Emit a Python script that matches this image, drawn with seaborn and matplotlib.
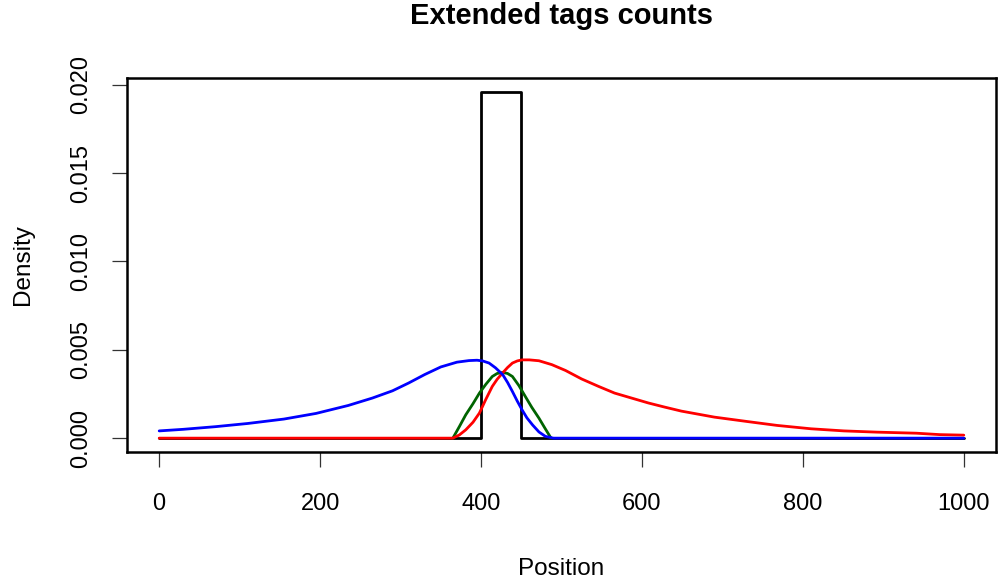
import numpy as np
import pandas as pd
import matplotlib
matplotlib.use("Agg")
import matplotlib.pyplot as plt
import seaborn as sns

# ---- data ----
rect_x = [0, 400, 400, 450, 450, 1000]
rect_y = [0.0, 0.0, 0.0196, 0.0196, 0.0, 0.0]

blue_x = [0, 30, 70, 110, 155, 195, 235, 265, 290, 310, 330, 350, 370, 385,
          395, 402, 410, 418, 427, 433, 439, 445, 451, 457, 464, 472, 480,
          490, 1000]
blue_y = [0.00041, 0.00050, 0.00065, 0.00083, 0.00108, 0.00140, 0.00185,
          0.00227, 0.00268, 0.00312, 0.00360, 0.00403, 0.00430, 0.00439,
          0.00441, 0.00437, 0.00425, 0.00398, 0.00359, 0.00315, 0.00264,
          0.00210, 0.00160, 0.00115, 0.00075, 0.00035, 0.00010, 0.0, 0.0]

red_x = [0, 365, 373, 381, 390, 398, 406, 414, 420, 427, 433, 439, 445, 451,
         460, 472, 488, 505, 525, 546, 566, 587, 608, 628, 649, 690, 731,
         768, 810, 851, 892, 941, 970, 1000]
red_y = [0.0, 0.0, 0.00018, 0.00047, 0.00090, 0.00142, 0.00220, 0.00293,
         0.00333, 0.00370, 0.00400, 0.00425, 0.00437, 0.00443, 0.00443,
         0.00438, 0.00416, 0.00383, 0.00335, 0.00293, 0.00255, 0.00227,
         0.00199, 0.00176, 0.00153, 0.00119, 0.00094, 0.00072, 0.00053,
         0.00041, 0.00034, 0.00028, 0.00020, 0.00017]

green_x = [365, 373, 381, 390, 398, 406, 414, 420, 427, 433, 439, 447, 455,
           463, 472, 480, 487]
green_y = [0.0, 0.00065, 0.00132, 0.00195, 0.00255, 0.00305, 0.00349,
           0.00366, 0.00372, 0.00366, 0.00349, 0.00298, 0.00236, 0.00175,
           0.00113, 0.00052, 0.0]

x_ticks = [0, 200, 400, 600, 800, 1000]
y_ticks = [0.000, 0.005, 0.010, 0.015, 0.020]
y_tick_labels = ["0.000", "0.005", "0.010", "0.015", "0.020"]

title = "Extended tags counts"
xlabel = "Position"
ylabel = "Density"

# ---- style ----
sns.set_style("white")
plt.rcParams['font.family'] = ['Liberation Sans', 'DejaVu Sans']
plt.rcParams['text.color'] = 'black'
plt.rcParams['axes.labelcolor'] = 'black'

fig = plt.figure(figsize=(9.98, 5.86), dpi=100)
ax = fig.add_axes([127 / 998, 1 - 452 / 586, (996 - 127) / 998, (452 - 78) / 586])

lw = 2.0
sns.lineplot(x=rect_x, y=rect_y, sort=False, estimator=None, color="black",
             linewidth=lw, ax=ax)
sns.lineplot(x=green_x, y=green_y, sort=False, estimator=None, color="#006400",
             linewidth=lw, ax=ax)
sns.lineplot(x=red_x, y=red_y, sort=False, estimator=None, color="#FF0000",
             linewidth=lw, ax=ax)
sns.lineplot(x=blue_x, y=blue_y, sort=False, estimator=None, color="#0000FF",
             linewidth=lw, ax=ax)

ax.set_xlim(-40, 1040)
ax.set_ylim(-0.000784, 0.020384)
ax.set_xticks(x_ticks)
ax.set_xticklabels([str(v) for v in x_ticks])
ax.set_yticks(y_ticks)
ax.set_yticklabels(y_tick_labels, rotation=90, va="center")

for s in ax.spines.values():
    s.set_visible(True)
    s.set_color("black")
    s.set_linewidth(1.8)

ax.tick_params(axis="both", direction="out", length=10.8, width=0.9,
               color="#333333", labelsize=17, labelcolor="black",
               bottom=True, left=True)
ax.tick_params(axis="x", pad=19)
ax.tick_params(axis="y", pad=14)

ax.set_xlabel(xlabel, fontsize=17.5, labelpad=31, color="black")
ax.set_ylabel(ylabel, fontsize=17.5, labelpad=26, color="black")
fig.text(0.5 * (127 + 996) / 998, 1 - 16 / 586, title, ha="center",
         va="center", fontsize=21, fontweight="bold", color="black")
ax.grid(False)

fig.savefig("out.png", dpi=100)
